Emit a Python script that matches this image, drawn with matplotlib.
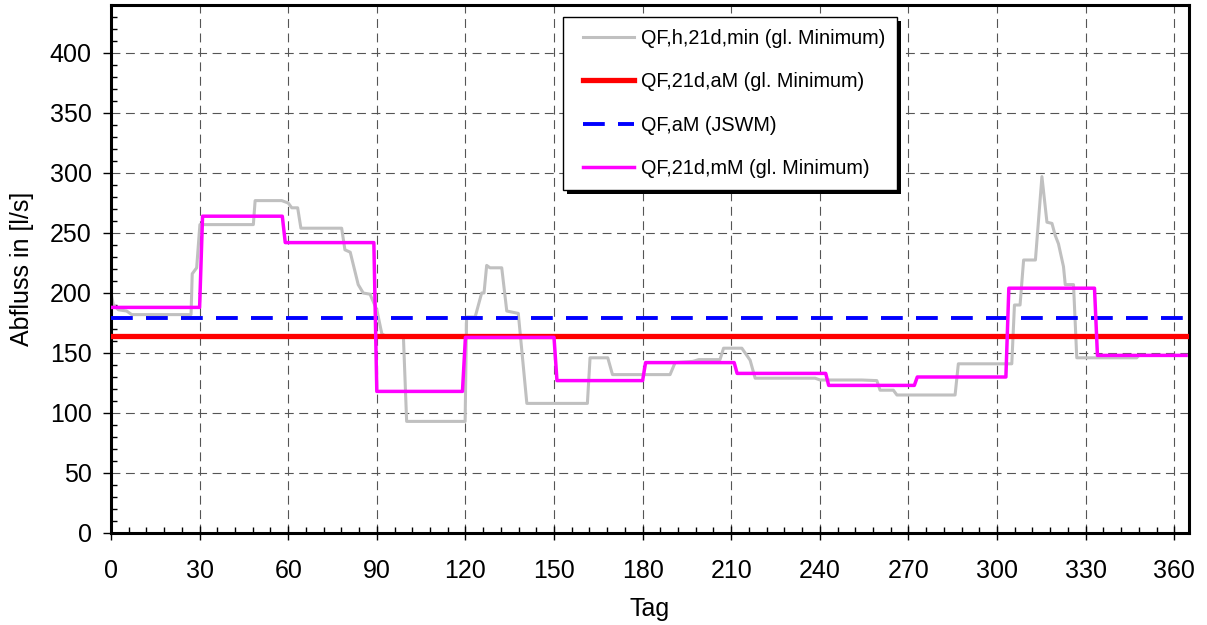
import numpy as np
import matplotlib
matplotlib.use("Agg")
import matplotlib.pyplot as plt
from matplotlib.patches import Rectangle
from matplotlib.ticker import MultipleLocator
from matplotlib.legend_handler import HandlerLine2D

plt.rcParams['font.family'] = ['Liberation Sans', 'DejaVu Sans']

# Hourly 21-day minimum flow (breakpoints of the curve: day, l/s)
gray_days = [0, 0.8, 2.5, 5.3, 7, 27.1, 27.5, 29, 30.1, 48.2, 48.8, 57.8, 60, 61.2,
             63.2, 64.3, 78.1, 79.2, 81, 83.7, 85.4, 87.7, 90, 91.7, 93, 99, 100.1,
             119.9, 120.4, 123.3, 125.5, 126.3, 127.2, 128.3, 132.3, 134, 137.9, 140.8,
             161.3, 162.2, 168.2, 169.8, 189.3, 191, 197, 199, 206.2, 207.4, 213.6,
             216.4, 218.1, 238.4, 240.1, 254.2, 259.3, 260.4, 264.9, 266.1, 285.8,
             286.9, 305, 305.9, 307.8, 309, 313, 315.2, 316.9, 318.6, 319.7, 320.8,
             322.5, 323.1, 325.9, 327, 347.3, 348, 364]
gray_vals = [200, 190, 186, 185, 182, 182, 216, 221, 257, 257, 277, 277, 275, 271,
             271, 254, 254, 236, 234, 207, 200, 199, 186, 166, 164, 164, 93,
             93, 180, 180, 200, 200, 223, 221, 221, 185, 183, 108,
             108, 146, 146, 132, 132, 142, 143, 144.5, 144.5, 154, 154,
             144, 129, 129, 127.5, 127.5, 127, 119, 119, 115, 115,
             141, 141, 190, 190, 227.5, 227.5, 297, 259, 258, 248, 241,
             222, 207, 207, 146, 146, 148, 148]

# Annual mean of the 21-day minimum and annual mean flow (JSWM)
q_21d_am = 164
q_am_jswm = 179

# Monthly means of the 21-day minimum
month_days = [31, 28, 31, 30, 31, 30, 31, 31, 30, 31, 30, 31]
month_vals = [188, 264, 242, 118, 163, 127, 142, 133, 123, 130, 204, 148]

days = np.arange(sum(month_days))
monthly = np.repeat(month_vals, month_days)

fig = plt.figure(figsize=(12.07, 6.25), dpi=100)
ax = fig.add_axes([111 / 1207, 1 - 533 / 625, 1078 / 1207, 528 / 625])

ax.plot(gray_days, gray_vals, color='#C0C0C0', lw=2.2,
        label='QF,h,21d,min (gl. Minimum)', zorder=2)
ax.plot([days[0], days[-1]], [q_21d_am, q_21d_am], color='#FF0000', lw=3.8,
        label='QF,21d,aM (gl. Minimum)', zorder=3)
ax.plot([days[0], days[-1]], [q_am_jswm, q_am_jswm], color='#0000FF', lw=2.8,
        dashes=(5.6, 3.4), label='QF,aM (JSWM)', zorder=3)
ax.plot(days, monthly, color='#FF00FF', lw=2.5,
        label='QF,21d,mM (gl. Minimum)', zorder=4)

ax.set_xlim(0, 365)
ax.set_ylim(0, 440)
ax.xaxis.set_minor_locator(MultipleLocator(6))
ax.yaxis.set_minor_locator(MultipleLocator(10))
ax.set_xticks(np.arange(0, 361, 30))
ax.set_yticks(np.arange(0, 401, 50))

ax.tick_params(axis='x', which='major', direction='inout', length=9.5, width=1,
               labelsize=18, pad=14)
ax.tick_params(axis='y', which='major', direction='out', length=6, width=1,
               labelsize=18, pad=8)
ax.tick_params(which='minor', direction='in', length=4.5, width=1)

ax.grid(which='major', color='#555555', linestyle=(0, (8, 5)), linewidth=0.8)
ax.set_axisbelow(True)
for s in ax.spines.values():
    s.set_linewidth(2.2)
    s.set_color('black')

ax.set_ylabel('Abfluss in [l/s]', fontsize=18)
ax.set_xlabel('Tag', fontsize=18)
ax.yaxis.set_label_coords(-0.0714, 0.5)
ax.xaxis.set_label_coords(0.5, -0.121)

leg = ax.legend(loc='upper left', bbox_to_anchor=((563 - 111) / 1078, (533 - 17) / 528),
                borderaxespad=0, fontsize=14.3, frameon=True, fancybox=False,
                edgecolor='black', framealpha=1, handlelength=2.98,
                handletextpad=0.36, labelspacing=1.24, borderpad=0.58,
                handler_map={matplotlib.lines.Line2D: HandlerLine2D(xpad=0.44)})
leg.get_frame().set_linewidth(1.0)
leg.set_zorder(10)

# Solid drop shadow behind the legend box
fig.canvas.draw()
bb = leg.get_window_extent()
inv = ax.transAxes.inverted()
(x0, y0) = inv.transform((bb.x0 + 4, bb.y0 - 4))
(x1, y1) = inv.transform((bb.x1 + 4, bb.y1 - 4))
ax.add_patch(Rectangle((x0, y0), x1 - x0, y1 - y0, transform=ax.transAxes,
                       facecolor='black', edgecolor='none', zorder=9, clip_on=False))

fig.savefig('out.png', dpi=100)
